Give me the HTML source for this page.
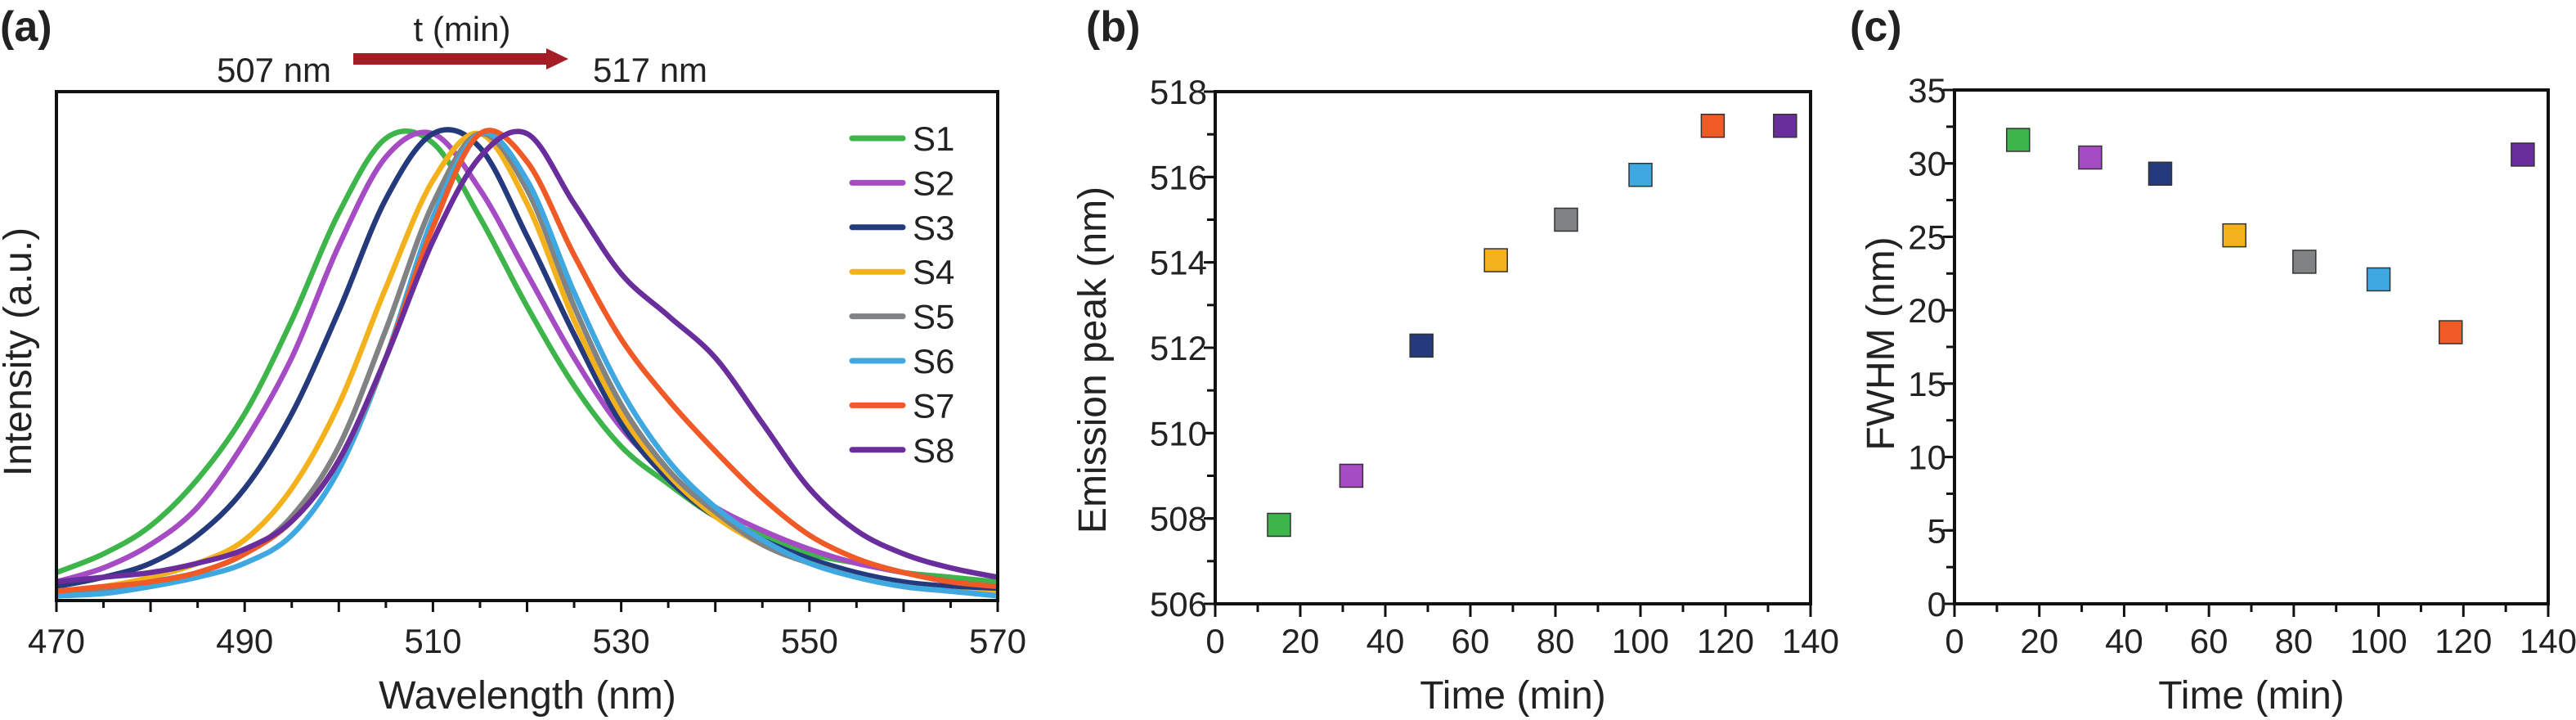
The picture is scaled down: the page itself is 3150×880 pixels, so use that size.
<!DOCTYPE html>
<html><head><meta charset="utf-8"><style>
html,body{margin:0;padding:0;background:#fff;}
svg{display:block;}
text{font-family:"Liberation Sans Narrow","Liberation Sans",sans-serif;fill:#222;}
.t{font-size:42px;}
.ti{font-family:"Liberation Sans",sans-serif;font-size:48px;}
.pl{font-family:"Liberation Sans",sans-serif;font-size:52px;font-weight:bold;}
</style></head><body>
<svg id="fig" width="3150" height="880" viewBox="0 0 3150 880" xmlns="http://www.w3.org/2000/svg"></svg>
<script>
const wavelengths=[470,475,480,485,490,495,500,505,510,515,520,525,530,535,540,545,550,555,560,565,570];
const seriesNames=["S1","S2","S3","S4","S5","S6","S7","S8"];
const seriesColors=["#3db54a","#a54bc4","#253a7c","#f3b21c","#808284","#3fa8e0","#ef5a27","#6a2d9c"];
const S1=[.06,.1,.16,.26,.4,.6,.83,.99,.98,.82,.63,.46,.33,.25,.18,.14,.1,.08,.06,.05,.04];
const S2=[.04,.07,.12,.2,.34,.52,.76,.95,1.0,.88,.7,.52,.37,.27,.2,.15,.11,.08,.06,.04,.03];
const S3=[.03,.05,.08,.14,.24,.4,.62,.86,1.0,.97,.78,.57,.38,.26,.18,.13,.09,.06,.04,.03,.02];
const S4=[.02,.03,.05,.08,.13,.24,.42,.67,.9,1.0,.85,.6,.4,.27,.18,.12,.08,.05,.03,.02,.015];
const S5=[.01,.02,.04,.06,.1,.18,.33,.58,.85,1.0,.88,.63,.42,.28,.19,.12,.08,.05,.03,.02,.01];
const S6=[.01,.015,.03,.05,.08,.14,.28,.52,.82,1.0,.9,.66,.45,.3,.2,.13,.08,.05,.03,.02,.01];
const S7=[.02,.03,.04,.06,.1,.17,.3,.52,.8,1.0,.94,.74,.56,.43,.32,.22,.14,.09,.06,.04,.03];
const S8=[.04,.05,.06,.08,.11,.17,.3,.52,.77,.95,1.0,.85,.7,.61,.52,.38,.24,.15,.1,.07,.05];
const spectra=[S1,S2,S3,S4,S5,S6,S7,S8];
const aTickLabels=[470,490,510,530,550,570];
const times=[15,32,48.5,66,82.5,100,117,134];
const peaks=[507.85,509.0,512.05,514.05,515.0,516.05,517.2,517.2];
const fwhm=[31.6,30.4,29.3,25.1,23.3,22.1,18.5,30.6];
const bXTicks=[0,20,40,60,80,100,120,140];
const bYTicks=[506,508,510,512,514,516,518];
const cYTicks=[0,5,10,15,20,25,30,35];

const NS="http://www.w3.org/2000/svg";
const svg=document.getElementById('fig');
function el(tag,attrs,parent,txt){const e=document.createElementNS(NS,tag);for(const k in attrs)e.setAttribute(k,attrs[k]);if(txt!==undefined)e.textContent=txt;(parent||svg).appendChild(e);return e;}
function lin(d0,d1,r0,r1){return v=>r0+(v-d0)/(d1-d0)*(r1-r0);}

/* ---------- Panel a ---------- */
const A={l:69,r:1220,t:112,b:734};
const ax=lin(470,570,A.l,A.r), ay=lin(0,1.09,A.b,A.t);
const ga=el('g',{});

let t=el('text',{x:0,y:50,class:'pl'},ga,'(a)');

t=el('text',{x:565,y:50,class:'t','text-anchor':'middle'},ga,'t (min)');

t=el('text',{x:335,y:100,class:'t','text-anchor':'middle'},ga,'507 nm');

t=el('text',{x:795,y:100,class:'t','text-anchor':'middle'},ga,'517 nm');

t=el('path',{d:'M432 65 H668 V59 L695 72 L668 85 V79 H432 Z',fill:'#a51d24'},ga);

const clip=el('clipPath',{id:'ca'},ga);el('rect',{x:A.l,y:A.t,width:A.r-A.l,height:A.b-A.t},clip);
const gc=el('g',{'clip-path':'url(#ca)'},ga);
function smoothPath(xs,ys){let d=`M${xs[0]},${ys[0]}`;for(let i=0;i<xs.length-1;i++){const x0=xs[Math.max(i-1,0)],y0=ys[Math.max(i-1,0)],x1=xs[i],y1=ys[i],x2=xs[i+1],y2=ys[i+1],x3=xs[Math.min(i+2,xs.length-1)],y3=ys[Math.min(i+2,xs.length-1)];d+=` C${x1+(x2-x0)/6},${y1+(y2-y0)/6} ${x2-(x3-x1)/6},${y2-(y3-y1)/6} ${x2},${y2}`;}return d;}
spectra.forEach((s,i)=>{
  const p=el('path',{d:smoothPath(wavelengths.map(ax),s.map(ay)),fill:'none',stroke:seriesColors[i],'stroke-width':6.5,'stroke-linejoin':'round'},gc);
  
  
});
seriesNames.forEach((n,i)=>{
  const y=169+i*54.4;
  const g=el('g',{},ga);
  
  
  el('line',{x1:1042,x2:1104,y1:y,y2:y,stroke:seriesColors[i],'stroke-width':7,'stroke-linecap':'round'},g);
  el('text',{x:1116,y:y+15,class:'t'},g,n);
});
t=el('rect',{x:A.l,y:A.t,width:A.r-A.l,height:A.b-A.t,fill:'none',stroke:'#111','stroke-width':4},ga);

for(let w=470;w<=570;w+=5){el('line',{x1:ax(w),x2:ax(w),y1:A.b,y2:A.b+(w%10===0?14:9),stroke:'#111','stroke-width':3},ga);}
aTickLabels.forEach(v=>{const e=el('text',{x:ax(v),y:798,class:'t','text-anchor':'middle'},ga,v);});
t=el('text',{x:645,y:866,class:'ti','text-anchor':'middle'},ga,'Wavelength (nm)');

t=el('text',{x:0,y:0,class:'ti','text-anchor':'middle',transform:'translate(38,430) rotate(-90)'},ga,'Intensity (a.u.)');


/* ---------- scatter panels ---------- */
function scatter(cfg){
  const g=el('g',{});
  
  const X=lin(0,140,cfg.l,cfg.r), Y=lin(cfg.y0,cfg.y1,cfg.b,cfg.t);
  let e=el('text',{x:cfg.lx,y:50,class:'pl'},g,cfg.label);
  
  e=el('rect',{x:cfg.l,y:cfg.t,width:cfg.r-cfg.l,height:cfg.b-cfg.t,fill:'none',stroke:'#111','stroke-width':4},g);
  
  for(let v=0;v<=140;v+=10)el('line',{x1:X(v),x2:X(v),y1:cfg.b,y2:cfg.b+(v%20===0?16:10),stroke:'#111','stroke-width':3},g);
  bXTicks.forEach(v=>{const q=el('text',{x:X(v),y:798,class:'t','text-anchor':'middle'},g,v);});
  for(let v=cfg.y0;v<=cfg.y1+1e-6;v+=cfg.minor)el('line',{x1:cfg.l-10,x2:cfg.l,y1:Y(v),y2:Y(v),stroke:'#111','stroke-width':3},g);
  cfg.yt.forEach(v=>{el('line',{x1:cfg.l-14,x2:cfg.l,y1:Y(v),y2:Y(v),stroke:'#111','stroke-width':3},g);const q=el('text',{x:cfg.l-10,y:Y(v)+15,class:'t','text-anchor':'end'},g,v);});
  e=el('text',{x:(cfg.l+cfg.r)/2,y:866,class:'ti','text-anchor':'middle'},g,'Time (min)');
  
  e=el('text',{x:0,y:0,class:'ti','text-anchor':'middle',transform:`translate(${cfg.yx},${cfg.ycy}) rotate(-90)`},g,cfg.ytitle);
  
  cfg.vals.forEach((v,i)=>{
    const m=el('rect',{x:X(times[i])-14,y:Y(v)-14,width:28,height:28,fill:seriesColors[i],stroke:'#333','stroke-width':1.5},g);
    
    
  });
}
scatter({name:'panel-b',label:'(b)',lx:1328,l:1486,r:2214,t:112,b:738,y0:506,y1:518,minor:1,yt:bYTicks,vals:peaks,ytitle:'Emission peak (nm)',yx:1352,ycy:440});
scatter({name:'panel-c',label:'(c)',lx:2262,l:2390,r:3116,t:110,b:738,y0:0,y1:35,minor:2.5,yt:cYTicks,vals:fwhm,ytitle:'FWHM (nm)',yx:2316,ycy:420});
</script>
</body></html>
